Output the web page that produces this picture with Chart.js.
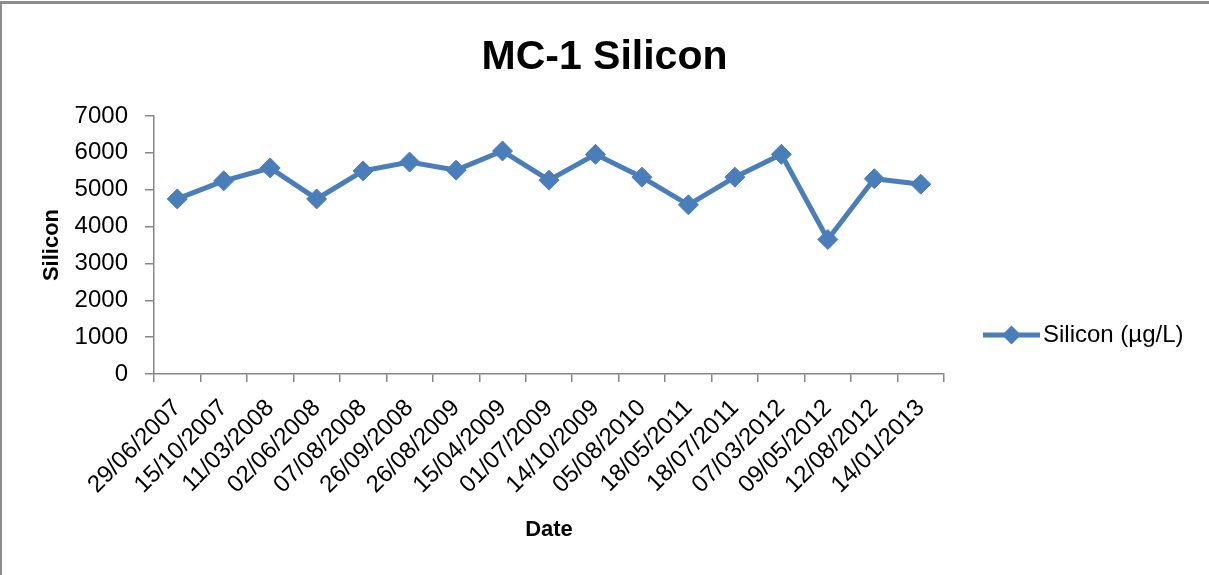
<!DOCTYPE html>
<html>
<head>
<meta charset="utf-8">
<script src="https://cdn.jsdelivr.net/npm/chart.js@4.4.1/dist/chart.umd.min.js"></script>
<style>
  body { margin: 0; background: #fff; }
  #wrap { position: relative; width: 1209px; height: 575px; overflow: hidden; }
  #chart { position: absolute; left: 0; top: 0; }
  .frame {
    position: absolute; left: 0; top: 1px; width: 1300px; height: 700px;
    border-top: 3px solid #8c8c8c; border-left: 2px solid #8c8c8c;
    pointer-events: none;
  }
</style>
</head>
<body>
<div id="wrap">
  <canvas id="chart" width="1209" height="575"></canvas>
  <div class="frame"></div>
</div>
<script>
// Даты отбора проб
const dates = [
  '29/06/2007', '15/10/2007', '11/03/2008', '02/06/2008', '07/08/2008',
  '26/09/2008', '26/08/2009', '15/04/2009', '01/07/2009', '14/10/2009',
  '05/08/2010', '18/05/2011', '18/07/2011', '07/03/2012', '09/05/2012',
  '12/08/2012', '14/01/2013'
];
// Кремний, мкг/л
const silicon = [
  4750, 5240, 5590, 4750, 5510, 5750, 5530, 6050, 5260, 5960,
  5340, 4590, 5340, 5960, 3650, 5300, 5150
];
const yTicks = [0, 1000, 2000, 3000, 4000, 5000, 6000, 7000];

const FONT = "'Liberation Sans', Arial, sans-serif";
const BLUE = '#4a7ebb';
const AXIS = '#868686';

// Легенда в стиле Excel: линия + ромб
const excelLegend = {
  id: 'excelLegend',
  afterDraw(chart) {
    const { ctx, chartArea } = chart;
    const ds = chart.data.datasets[0];
    const x0 = chartArea.right + 39;
    const y = chartArea.top + 219;
    const cx = x0 + 28.5;
    const r = 9.5;
    ctx.save();
    ctx.strokeStyle = ds.borderColor;
    ctx.lineWidth = ds.borderWidth;
    ctx.beginPath();
    ctx.moveTo(x0, y);
    ctx.lineTo(x0 + 57, y);
    ctx.stroke();
    ctx.fillStyle = ds.borderColor;
    ctx.beginPath();
    ctx.moveTo(cx, y - r);
    ctx.lineTo(cx + r, y);
    ctx.lineTo(cx, y + r);
    ctx.lineTo(cx - r, y);
    ctx.closePath();
    ctx.fill();
    ctx.fillStyle = '#000';
    ctx.font = '24px ' + FONT;
    ctx.textBaseline = 'middle';
    ctx.fillText(ds.label, x0 + 60, y);
    ctx.restore();
  }
};

new Chart(document.getElementById('chart').getContext('2d'), {
  type: 'line',
  data: {
    labels: dates,
    datasets: [{
      label: 'Silicon (µg/L)',
      data: silicon,
      borderColor: BLUE,
      backgroundColor: BLUE,
      borderWidth: 5,
      pointStyle: 'rectRot',
      pointRadius: 10,
      pointBorderWidth: 1,
      pointBackgroundColor: BLUE,
      pointBorderColor: BLUE,
      tension: 0,
      fill: false
    }]
  },
  options: {
    responsive: false,
    animation: false,
    devicePixelRatio: 1,
    layout: { padding: { left: 0, right: 0, top: 0, bottom: 32 } },
    plugins: {
      legend: { display: false },
      tooltip: { enabled: false },
      title: {
        display: true,
        text: 'MC-1 Silicon',
        color: '#000',
        font: { family: FONT, size: 41, weight: 'bold', lineHeight: 1.2 },
        padding: { top: 33, bottom: 33.8 }
      }
    },
    scales: {
      x: {
        offset: true,
        afterFit: (s) => { s.height = 169; },
        grid: { offset: true, drawOnChartArea: false, tickLength: 8, color: AXIS, lineWidth: 1.5 },
        border: { color: AXIS, width: 1.5 },
        ticks: {
          autoSkip: false, minRotation: 45, maxRotation: 45,
          color: '#000', padding: 12, labelOffset: 0,
          font: { family: FONT, size: 24 }
        },
        title: {
          display: true, text: 'Date', color: '#000',
          font: { family: FONT, size: 22, weight: 'bold', lineHeight: 1.2 },
          padding: 0
        }
      },
      y: {
        min: 0,
        max: 7000,
        afterFit: (s) => { s.width = 154; },
        afterBuildTicks: (s) => { s.ticks = yTicks.map(v => ({ value: v })); },
        grid: { drawOnChartArea: false, tickLength: 9, color: AXIS, lineWidth: 1.5 },
        border: { color: AXIS, width: 1.5 },
        ticks: {
          color: '#000', padding: 17, font: { family: FONT, size: 24 },
          callback: (v) => String(v)
        },
        title: {
          display: true, text: 'Silicon', color: '#000',
          font: { family: FONT, size: 22, weight: 'bold', lineHeight: 1.2 },
          padding: { top: 39, bottom: 0 }
        }
      },
      // пустая ось справа — место под легенду
      side: {
        position: 'right',
        min: 0,
        max: 1,
        afterFit: (s) => { s.width = 265; },
        grid: { display: false },
        border: { display: false },
        ticks: { display: false }
      }
    }
  },
  plugins: [excelLegend]
});
</script>
</body>
</html>
